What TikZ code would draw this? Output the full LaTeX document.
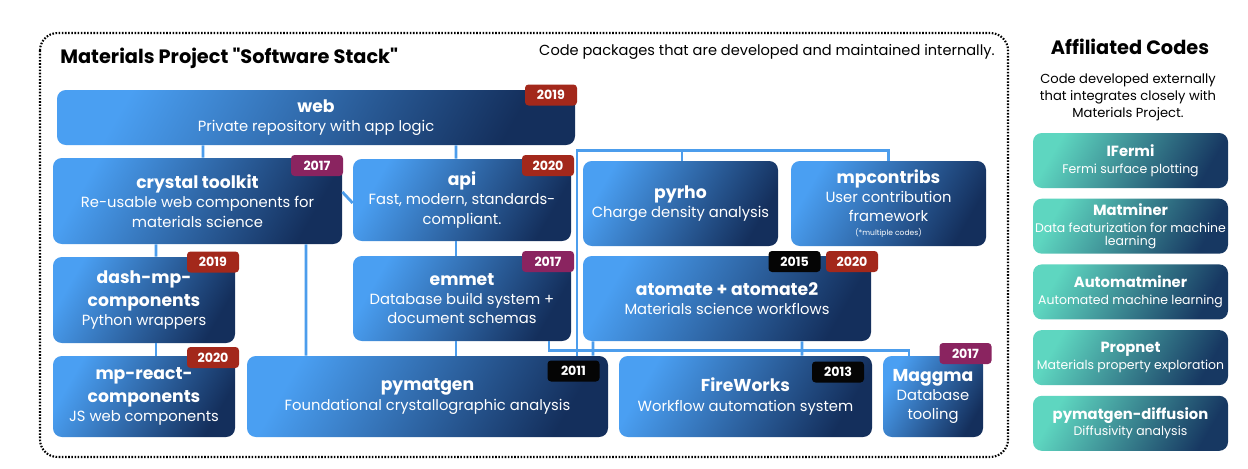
\documentclass[tikz,border=0pt]{standalone}
\usepackage{fontspec}
\setmainfont{Poppins}
\newfontfamily\plainfont{Poppins}
\usetikzlibrary{positioning, calc}
\definecolor{mplight}{HTML}{4A9FF2}
\definecolor{mpdark}{HTML}{142F5C}
\definecolor{tllight}{HTML}{5ED6C0}
\definecolor{tldark}{HTML}{173862}
\definecolor{mplink}{HTML}{4C9DEC}
\definecolor{yrred}{HTML}{A3281B}
\definecolor{yrpurple}{HTML}{8A2460}
\definecolor{yrblack}{HTML}{050505}

\newcommand{\pname}[1]{{\fontsize{9.8}{11}\selectfont\bfseries #1}}
\newcommand{\aname}[1]{{\fontsize{8.4}{10}\selectfont\bfseries #1}}

\begin{document}
\begin{tikzpicture}[
  pkg/.style={rounded corners=5pt, top color=mplight, bottom color=mpdark,
    shading angle=60, text=white, align=center, inner sep=1pt,
    font=\fontsize{8.4}{11}\selectfont},
  aff/.style={rounded corners=5pt, top color=tllight, bottom color=tldark,
    shading angle=60, text=white, align=center, inner sep=1pt,
    minimum width=3.90cm, minimum height=1.10cm,
    font=\fontsize{7.1}{9.5}\selectfont},
  yr/.style={rounded corners=2pt, text=white, font=\fontsize{7.2}{8}\selectfont\bfseries,
    minimum width=1.04cm, minimum height=0.42cm, inner sep=0pt},
  link/.style={mplink, line width=1.6pt},
]

% Canvas
\useasboundingbox[fill=white] (0,0) rectangle (24.96,-9.38);

% Frame round the internal codes
\draw[dash pattern=on 0.9pt off 0.9pt, line width=1.2pt, rounded corners=10pt]
  (0.80,-0.66) rectangle (20.16,-9.14);

% Headings
\node[anchor=west, inner sep=0pt, font=\plainfont\fontsize{11}{12}\selectfont\bfseries] (title) at (1.20,-1.16)
  {Materials Project "Software Stack"};
\node[anchor=east, inner sep=0pt, font=\fontsize{8.3}{10}\selectfont] (note) at (19.90,-1.04)
  {Code packages that are developed and maintained internally.};

% Package boxes
\node[pkg, minimum width=10.36cm, minimum height=1.10cm] (web) at (6.32,-2.35)
  {\pname{web}\\Private repository with app logic};
\node[pkg, minimum width=5.78cm, minimum height=1.72cm] (crystal) at (3.95,-4.02)
  {\pname{crystal toolkit}\\Re-usable web components for\\materials science};
\node[pkg, minimum width=4.36cm, minimum height=1.64cm] (api) at (9.24,-4.00)
  {\pname{api}\\Fast, modern, standards-\\compliant.};
\node[pkg, minimum width=3.90cm, minimum height=1.70cm] (pyrho) at (13.61,-4.07)
  {\pname{pyrho}\\Charge density analysis};
\node[pkg, minimum width=3.90cm, minimum height=1.70cm] (mpcontribs) at (17.77,-4.07)
  {\pname{mpcontribs}\\User contribution\\framework\\[-3pt]{\fontsize{4.3}{5}\selectfont (*multiple codes)}};
\node[pkg, minimum width=3.64cm, minimum height=1.72cm] (dash) at (2.88,-6.00)
  {\pname{dash-mp-}\\[2pt]\pname{components}\\Python wrappers};
\node[pkg, minimum width=4.36cm, minimum height=1.70cm] (emmet) at (9.24,-5.97)
  {\pname{emmet}\\Database build system +\\document schemas};
\node[pkg, minimum width=5.76cm, minimum height=1.70cm] (atomate) at (14.54,-5.97)
  {\pname{atomate + atomate2}\\Materials science workflows};
\node[pkg, minimum width=3.64cm, minimum height=1.62cm] (mpreact) at (2.88,-7.93)
  {\pname{mp-react-}\\[2pt]\pname{components}\\JS web components};
\node[pkg, minimum width=7.22cm, minimum height=1.62cm] (pymatgen) at (8.55,-7.93)
  {\pname{pymatgen}\\Foundational crystallographic analysis};
\node[pkg, minimum width=5.06cm, minimum height=1.62cm] (fireworks) at (14.91,-7.93)
  {\pname{FireWorks}\\Workflow automation system};
\node[pkg, minimum width=2.00cm, minimum height=1.62cm] (maggma) at (18.66,-7.93)
  {\pname{Maggma}\\Database\\tooling};

% Connectors
\draw[link] ([xshift=-2.26cm]web.south) -- ([xshift=0.11cm]crystal.north);
\draw[link] ([xshift=2.80cm]web.south) -- ([xshift=-0.12cm]api.north);
\draw[link] ([xshift=-0.83cm]crystal.south) -- ([xshift=0.24cm]dash.north);
\draw[link] ([xshift=0.24cm]dash.south) -- ([xshift=0.24cm]mpreact.north);
\draw[link] ([xshift=2.17cm]crystal.south) -- ([xshift=-2.43cm]pymatgen.north);
\draw[link] ([yshift=0.18cm]crystal.east) -- ([yshift=-0.06cm]api.west);
\draw[link] ([xshift=-0.12cm]api.south) -- ([xshift=-0.12cm]emmet.north);
\draw[link] ([xshift=-0.12cm]emmet.south) -- ([xshift=0.57cm]pymatgen.north);
\draw[link] ([xshift=2.99cm]pymatgen.north) |- ([yshift=0.20cm]mpcontribs.north) -- (mpcontribs.north);
\draw[link] ([xshift=0.03cm, yshift=0.20cm]pyrho.north) -- ([xshift=0.03cm]pyrho.north);
\draw[link] ([xshift=1.74cm]emmet.south) |- ([xshift=-0.48cm, yshift=0.10cm]maggma.north)
  -- ([xshift=-0.48cm]maggma.north);
\draw[link] ([xshift=-2.68cm]atomate.south) -- ([xshift=3.31cm]pymatgen.north);
\draw[link] ([xshift=1.50cm]atomate.south) -- ([xshift=1.13cm]fireworks.north);

% Year badges
\node[yr, fill=yrred] (y-web) at (11.02,-1.90) {2019};
\node[yr, fill=yrpurple] (y-crystal) at (6.34,-3.31) {2017};
\node[yr, fill=yrred] (y-api) at (10.96,-3.31) {2020};
\node[yr, fill=yrred] (y-dash) at (4.26,-5.24) {2019};
\node[yr, fill=yrpurple] (y-emmet) at (10.96,-5.23) {2017};
\node[yr, fill=yrblack] (y-atomate) at (15.89,-5.23) {2015};
\node[yr, fill=yrred] (y-atomate2) at (17.04,-5.23) {2020};
\node[yr, fill=yrred] (y-mpreact) at (4.26,-7.15) {2020};
\node[yr, fill=yrblack] (y-pymatgen) at (11.47,-7.42) {2011};
\node[yr, fill=yrblack] (y-fireworks) at (16.76,-7.44) {2013};
\node[yr, fill=yrpurple] (y-maggma) at (19.31,-7.07) {2017};

% Affiliated codes
\node[font=\fontsize{11}{12}\selectfont\bfseries] (afftitle) at (22.60,-0.94) {Affiliated Codes};
\node[align=center, font=\fontsize{7.45}{9.7}\selectfont] (affnote) at (22.56,-1.94)
  {Code developed externally\\that integrates closely with\\Materials Project.};
\node[aff] (ifermi) at (22.61,-3.21)
  {\aname{IFermi}\\Fermi surface plotting};
\node[aff, below=0.20cm of ifermi] (matminer)
  {\aname{Matminer}\\Data featurization for machine\\[-2pt]learning};
\node[aff, below=0.20cm of matminer] (automatminer)
  {\aname{Automatminer}\\Automated machine learning};
\node[aff, below=0.20cm of automatminer] (propnet)
  {\aname{Propnet}\\Materials property exploration};
\node[aff, below=0.20cm of propnet] (diffusion)
  {\aname{pymatgen-diffusion}\\Diffusivity analysis};

\end{tikzpicture}
\end{document}
